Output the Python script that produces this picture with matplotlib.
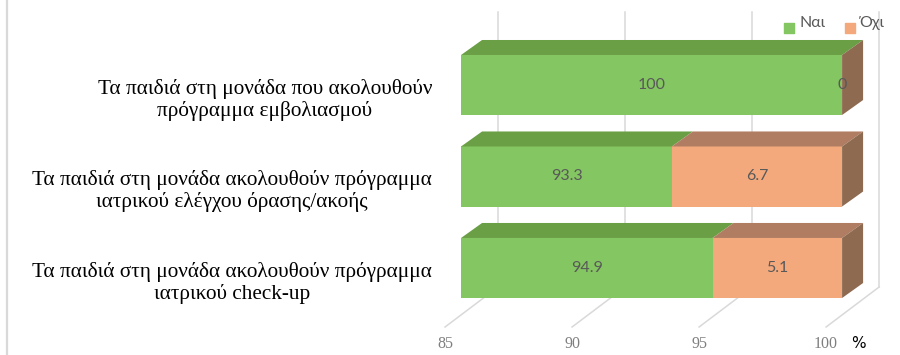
import matplotlib
matplotlib.use('Agg')
import matplotlib.pyplot as plt
from matplotlib.patches import Polygon, FancyBboxPatch

# data (bottom to top)
categories = ['Τα παιδιά στη μονάδα ακολουθούν πρόγραμμα\nιατρικού check-up',
              'Τα παιδιά στη μονάδα ακολουθούν πρόγραμμα\nιατρικού ελέγχου όρασης/ακοής',
              'Τα παιδιά στη μονάδα που ακολουθούν\nπρόγραμμα εμβολιασμού']
yes_vals = [94.9, 93.3, 100]
no_vals = [5.1, 6.7, 0]
series_names = ['Ναι', 'Όχι']
ticks = [85, 90, 95, 100]

x_min, x_max = 85, 100

# colours: front, top, side
green = ('#84C661', '#6A9F45', '#5E8C3E')
orange = ('#F4A97C', '#B07D62', '#8E6A50')
grid_c = '#D9D9D9'

# fake 3d depth, in data units
dx, dy = 0.827, 0.164
wall_dx = 1.457
bar_h = 0.656

fig = plt.figure(figsize=(9, 3.55), dpi=100)
ax = fig.add_axes([0, 0, 1, 1])
ax.set_xlim(66.85, 102.28)
ax.set_ylim(-0.951, 2.929)
ax.axis('off')

# chart border (only top and left visible)
ax.add_patch(FancyBboxPatch((7 / 900, -0.2), 1.2, 1.2 - 7 / 355 + 0.2,
                            boxstyle='round,pad=0,rounding_size=0.01',
                            transform=ax.transAxes, fill=False,
                            ec='#D9D9D9', lw=1.6, zorder=0))

# back wall gridlines + floor lines
wall_bottom, wall_top = -0.208, 2.798
floor_front = -0.645
for t in ticks:
    ax.plot([t + wall_dx, t + wall_dx], [wall_bottom, wall_top], color=grid_c, lw=1.1, zorder=1)
    ax.plot([t - 0.63, t + wall_dx], [floor_front, wall_bottom], color=grid_c, lw=1.1, zorder=1)
    ax.text(t - 0.63, -0.83, str(t), ha='center', va='center', fontsize=11.5,
            family='Liberation Serif', color='#7F7F7F')
ax.text(100.63, -0.83, '%', ha='center', va='center', fontsize=11, color='black')


def box(y, x0, x1, cols, side=False):
    front, top, sd = cols
    ax.barh(y, x1 - x0, left=x0, height=bar_h, color=front, zorder=3)
    yt = y + bar_h / 2
    ax.add_patch(Polygon([(x0, yt), (x1, yt), (x1 + dx, yt + dy), (x0 + dx, yt + dy)],
                         closed=True, fc=top, ec='none', zorder=3))
    if side:
        yb = y - bar_h / 2
        ax.add_patch(Polygon([(x1, yb), (x1, yt), (x1 + dx, yt + dy), (x1 + dx, yb + dy)],
                             closed=True, fc=sd, ec='none', zorder=3))


for i, (cat, yv, nv) in enumerate(zip(categories, yes_vals, no_vals)):
    box(i, x_min, yv, green)
    box(i, yv, yv + nv, orange, side=True)
    lab_kw = dict(ha='center', va='center', fontsize=11.5, family='Lato', color='#595959', zorder=4)
    ax.text((x_min + yv) / 2, i, f'{yv:g}', **lab_kw)
    ax.text(yv + nv / 2, i, f'{nv:g}', **lab_kw)
    ax.text(83.86, i - 0.16, cat, ha='right', va='center', multialignment='center',
            fontsize=15.3, family='Liberation Serif', color='black', linespacing=1.15)

# legend
leg_y = 2.623
for x, name, col in [(97.92, series_names[0], green[0]), (100.32, series_names[1], orange[0])]:
    ax.scatter([x], [leg_y], marker='s', s=52, color=col, zorder=4)
    ax.text(x + 0.4, leg_y + 0.06, name, ha='left', va='center', fontsize=11.5,
            family='Lato', color='#595959')

fig.savefig('out.png', dpi=100)
